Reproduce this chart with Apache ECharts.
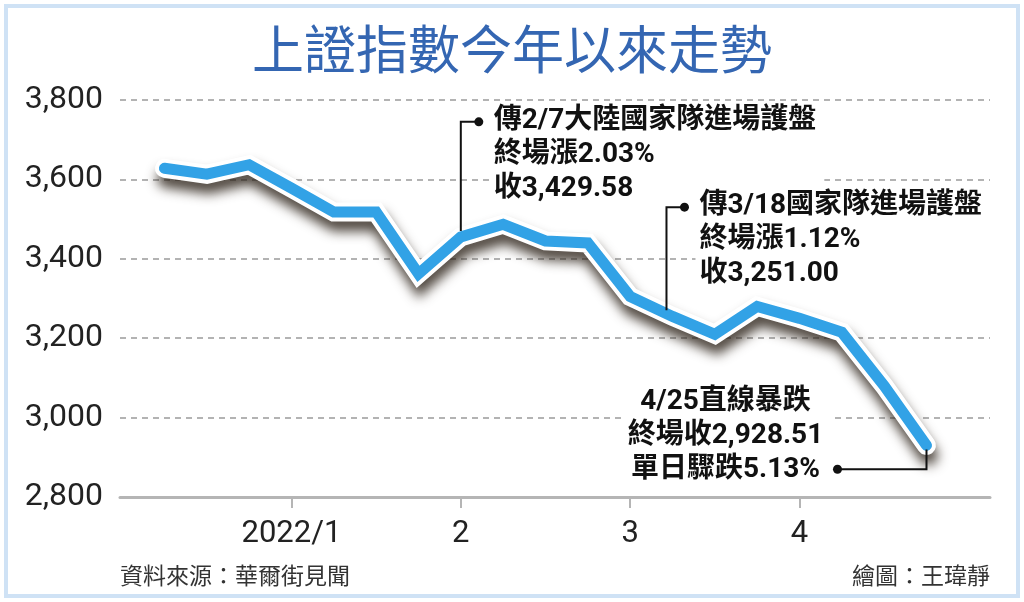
<!DOCTYPE html>
<html style="height: 100%">
<head>
    <meta charset="UTF-8">
    <script src="https://cdn.jsdelivr.net/npm/echarts@6/dist/echarts.min.js"></script>
</head>
<body style="height: 100%; margin: 0; background: #fff">
    <div id="main" style="width: 1024px; height: 602px;"></div>
    <script type="text/javascript">
        // 週收盤
        var weeks = ['2021/12/17', '12/24', '12/31', '2022/1/7', '1/14', '1/21', '1/28',
            '2/11', '2/18', '2/25', '3/4', '3/11', '3/18', '3/25', '4/1', '4/8', '4/15', '4/22', '4/25'];
        var closes = [3628, 3613, 3637, 3578, 3518, 3518, 3362,
            3455, 3487, 3445, 3440, 3305, 3255, 3210, 3280, 3250, 3215, 3080, 2930];

        // x 軸月份標籤與所在週
        var monthLabels = ['2022/1', '2', '3', '4'];
        var monthAt = [3, 7, 11, 15];

        var yTicks = [2800, 3000, 3200, 3400, 3600, 3800];

        // 註解文字
        var notes = [
            { week: '2/11', text: '傳2/7大陸國家隊進場護盤\n終場漲2.03%\n收3,429.58' },
            { week: '3/18', text: '傳3/18國家隊進場護盤\n終場漲1.12%\n收3,251.00' },
            { week: '4/25', text: '4/25直線暴跌\n終場收2,928.51\n單日驟跌5.13%' }
        ];

        var myChart = echarts.init(document.getElementById('main'));

        var pts = closes.map(function (v, i) { return [i, v]; });
        var numFont = 'Roboto, "Noto Sans CJK TC", sans-serif';
        var cjkFont = '"Noto Sans CJK TC", sans-serif';

        var option = {
            backgroundColor: '#fff',
            animation: false,
            title: {
                text: '上證指數今年以來走勢',
                left: 'center',
                top: 18,
                textStyle: { fontFamily: cjkFont, fontSize: 52, fontWeight: 'normal', color: '#3466b2' }
            },
            grid: { left: 120, right: 34, top: 100, height: 397 },
            xAxis: {
                type: 'value',
                min: -1.05,
                max: 19.5,
                splitLine: { show: false },
                axisLine: { onZero: false, lineStyle: { color: '#b5b5b5', width: 3 } },
                axisTick: {
                    customValues: monthAt,
                    length: 11,
                    lineStyle: { color: '#b5b5b5', width: 2 }
                },
                axisLabel: {
                    customValues: monthAt,
                    margin: 22,
                    fontFamily: numFont,
                    fontSize: 31,
                    color: '#222',
                    formatter: function (v) {
                        var i = monthAt.indexOf(Math.round(v));
                        return i >= 0 ? monthLabels[i] : '';
                    }
                }
            },
            yAxis: {
                type: 'value',
                min: yTicks[0],
                max: yTicks[yTicks.length - 1],
                interval: 200,
                axisLine: { show: false },
                axisTick: { show: false },
                axisLabel: {
                    margin: 17,
                    fontFamily: numFont,
                    fontSize: 32,
                    color: '#222',
                    formatter: function (v) { return v.toLocaleString('en-US'); }
                },
                splitLine: { lineStyle: { color: '#9a9a9a', width: 1.5, type: [6, 5] } }
            },
            series: [
                {
                    type: 'line',
                    data: pts,
                    showSymbol: false,
                    silent: true,
                    z: 3,
                    lineStyle: {
                        color: '#fff', width: 19, cap: 'round', join: 'miter',
                        shadowColor: 'rgba(40,30,20,0.8)', shadowBlur: 12, shadowOffsetY: 10, shadowOffsetX: 2
                    }
                },
                {
                    type: 'line',
                    data: pts,
                    showSymbol: false,
                    silent: true,
                    z: 4,
                    lineStyle: { color: '#32a2e6', width: 11, cap: 'round', join: 'miter' }
                }
            ]
        };

        myChart.setOption(option);

        // 以座標換算畫出註解引線與文字
        function px(x, y) { return myChart.convertToPixel({ gridIndex: 0 }, [x, y]); }

        var g = [];
        var leaderLevel = [3745, 3530, 2870];
        notes.forEach(function (n, i) {
            var k = weeks.indexOf(n.week);
            var p = px(k, closes[k]);
            var top = px(k, leaderLevel[i]);
            var dotX, textStyle;
            if (i < 2) {
                var sx = i === 0 ? p[0] : p[0] - 6;
                dotX = sx + 18;
                g.push({ type: 'polyline', z: 20, shape: { points: [[sx, p[1] - 6], [sx, top[1]], [dotX, top[1]]] },
                    style: { stroke: '#111', lineWidth: 2, fill: null } });
                g.push({ type: 'circle', z: 21, shape: { cx: dotX, cy: top[1], r: 4.5 }, style: { fill: '#111' } });
                textStyle = { x: dotX + 11, y: top[1] - 18, align: 'left', verticalAlign: 'top' };
            } else {
                dotX = p[0] - 89;
                g.push({ type: 'polyline', z: 20, shape: { points: [[p[0], p[1] + 4], [p[0], top[1]], [dotX, top[1]]] },
                    style: { stroke: '#111', lineWidth: 2, fill: null } });
                g.push({ type: 'circle', z: 21, shape: { cx: dotX, cy: top[1], r: 4.5 }, style: { fill: '#111' } });
                textStyle = { x: dotX - 110, y: top[1] + 18, align: 'center', verticalAlign: 'bottom' };
            }
            g.push({
                type: 'text', z: 15,
                style: {
                    text: n.text,
                    x: textStyle.x, y: textStyle.y,
                    align: textStyle.align, verticalAlign: textStyle.verticalAlign,
                    font: 'bold 28px ' + numFont,
                    fill: '#111',
                    lineHeight: 34,
                    backgroundColor: '#fff',
                    padding: [0, 8, 0, 4]
                }
            });
        });

        // 資料來源、繪圖
        g.push({ type: 'text', left: 120, top: 564,
            style: { text: '資料來源：華爾街見聞', font: '23px ' + cjkFont, fill: '#333' } });
        g.push({ type: 'text', right: 34, top: 564,
            style: { text: '繪圖：王瑋靜', font: '23px ' + cjkFont, fill: '#333' } });
        // 外框
        g.push({ type: 'rect', z: 30, shape: { x: 6, y: 6, width: 1012, height: 590 },
            style: { fill: null, stroke: '#cfe2f5', lineWidth: 4 } });

        myChart.setOption({ graphic: g });
    </script>
</body>
</html>
